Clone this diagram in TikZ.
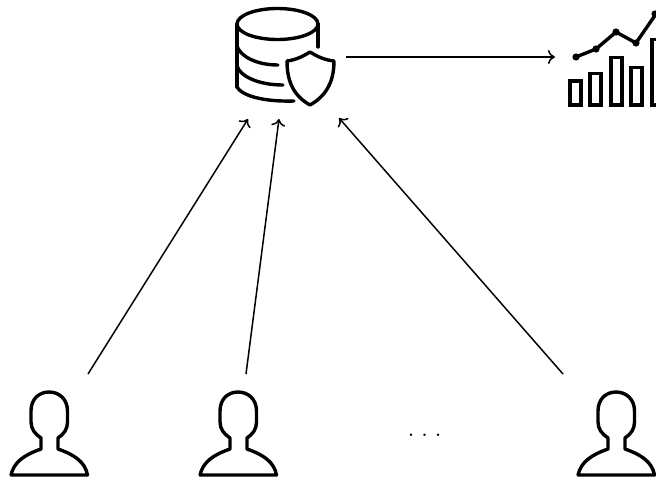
\documentclass[tikz,border=0pt]{standalone}
\usepackage{tikz}
\usetikzlibrary{arrows.meta}
\tikzset{
	icon/.style={line width=3.4pt,line cap=round,line join=round},
	bar/.style={line width=3.8pt},
	link/.style={line width=1.5pt,-{Computer Modern Rightarrow[length=7pt,width=14pt]}},
	person/.pic={
		\draw [icon] (-38,26) -- (38.5,26)
			.. controls (36,13) and (26,6) .. (9,0)
			-- (9,-11)
			.. controls (15,-15) and (18.5,-20) .. (18.5,-27)
			-- (18.5,-38)
			.. controls (18.5,-50) and (10,-57) .. (0,-57)
			.. controls (-10,-57) and (-18,-50) .. (-18,-38)
			-- (-18,-27)
			.. controls (-18,-20) and (-14,-15) .. (-8,-11)
			-- (-8,0)
			.. controls (-25,6) and (-35,13) .. (-38,26);
	}
}
\begin{document}
\begin{tikzpicture}[x=1pt,y=-1pt]
		\useasboundingbox (0,0) rectangle (656,480);

		\coordinate (U1) at (49,449);
		\coordinate (U2) at (238,449);
		\coordinate (U3) at (616,449);

		\coordinate (U1out) at (88,374);
		\coordinate (U2out) at (246,374);
		\coordinate (U3out) at (563,374);
		\coordinate (D1in) at (248,119);
		\coordinate (D2in) at (279,119);
		\coordinate (D3in) at (339,118);
		\coordinate (Dout) at (346,57);
		\coordinate (Cin) at (555,57);

		% database
		\draw [icon] (277.5,24) ellipse (40.5 and 15.5);
		\draw [icon] (237,24) -- (237,87);
		\draw [icon] (318,24) -- (318,47);
		\draw [icon] (237,46) .. controls (240,56) and (256,65) .. (278,65);
		\draw [icon] (237,66) .. controls (240,76) and (258,85) .. (283,85);
		\draw [icon] (237,87) .. controls (241,95) and (262,102) .. (294,101);
		% shield
		\draw [icon] (310,52) .. controls (302,57) and (295,60) .. (287,61)
			.. controls (287,82) and (294,96) .. (310,105)
			.. controls (326,96) and (334,82) .. (334,61)
			.. controls (325,60) and (318,57) .. (310,52) -- cycle;

		% chart
		\draw [icon] (576,57) -- (596,49) -- (616,32) -- (636,43) -- (658,11);
		\foreach \p in {(576,57),(596,49),(616,32),(636,43),(655,14)}
			\fill \p circle (3.6);
		\foreach \x/\y in {570/81,590/73.5,611/57.5,631/67.5,652/39.5}
			\draw [bar] (\x,105) rectangle (\x+11,\y);

		% users
		\pic at (U1) {person};
		\pic at (U2) {person};
		\pic at (U3) {person};
		\node [anchor=base,inner sep=0pt,font=\fontsize{30}{32}\selectfont] (more) at (424.5,436.7) {.\hspace{6pt}.\hspace{6pt}.};

		\draw [link] (U1out) -- (D1in);
		\draw [link] (U2out) -- (D2in);
		\draw [link] (U3out) -- (D3in);
		\draw [link] (Dout) -- (Cin);
\end{tikzpicture}
\end{document}
